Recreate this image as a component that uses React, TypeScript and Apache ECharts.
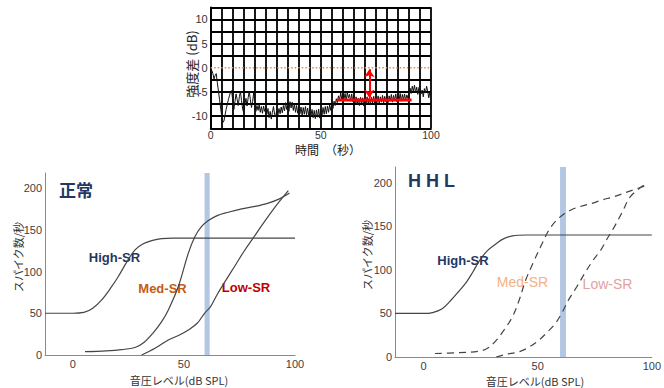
import React, { useEffect, useRef } from "react";
import * as echarts from "echarts";

// ---------- top panel: intensity difference over time ----------
const TIME_STEP = 0.5; // seconds between samples
const INTENSITY_DIFF = [
  -1.8, -0.6, -1.2, -2.3, -1.6, -1.2, -3.0, -4.8, -6.5, -8.3,
  -10.0, -11.3, -11.0, -9.8, -8.6, -7.6, -6.6, -5.8, -5.0, -4.7,
  -6.8, -8.6, -7.0, -5.4, -6.5, -7.8, -6.0, -4.9, -6.8, -8.5,
  -9.3, -7.6, -6.3, -7.9, -6.2, -4.8, -6.6, -8.2, -7.0, -5.2,
  -7.4, -9.0, -7.8, -8.8, -7.6, -9.2, -8.0, -9.4, -7.9, -9.0,
  -8.2, -9.6, -8.4, -10.3, -9.0, -10.6, -9.2, -8.0, -9.6, -10.1,
  -8.6, -9.8, -8.4, -9.5, -8.1, -9.3, -7.8, -8.9, -7.2, -8.6,
  -7.4, -9.0, -7.0, -8.3, -7.1, -8.8, -7.5, -9.2, -7.8, -9.4,
  -8.0, -9.5, -8.1, -9.8, -8.2, -9.6, -8.0, -9.7, -8.3, -9.9,
  -8.4, -10.0, -8.6, -10.3, -8.8, -10.5, -8.7, -10.2, -8.5, -10.4,
  -8.6, -9.9, -8.2, -9.6, -8.0, -9.5, -7.9, -9.2, -7.6, -8.8,
  -7.3, -8.4, -6.9, -7.8, -6.4, -7.2, -5.8, -6.6, -5.2, -6.5,
  -5.0, -6.4, -5.3, -6.8, -5.1, -6.2, -5.5, -6.9, -5.4, -7.0,
  -5.8, -7.3, -6.0, -7.6, -6.3, -7.8, -6.1, -7.5, -6.2, -7.9,
  -6.4, -7.6, -6.0, -7.4, -6.3, -7.7, -6.1, -7.3, -5.9, -7.5,
  -6.2, -7.2, -5.8, -7.4, -6.0, -7.1, -5.7, -7.3, -5.9, -7.0,
  -5.6, -7.2, -5.8, -6.9, -5.5, -7.1, -5.7, -6.8, -5.4, -7.0,
  -5.6, -6.7, -5.3, -6.9, -5.5, -6.6, -5.4, -6.8, -5.6, -6.3,
  -5.0, -4.2, -5.3, -3.8, -4.9, -3.6, -5.2, -4.0, -5.5, -4.1,
  -3.7, -5.4, -4.6, -6.0, -4.3, -5.2, -3.8, -4.9, -6.2, -5.0,
  -5.4,
];
const REF_LINE = [[0, 0], [100, 0]];
const PLATEAU_LINE = [[57.2, -6.65], [91.2, -6.65]];
const ARROW_FROM = [72, -0.3];
const ARROW_TO = [72, -6.2];

// ---------- bottom panels: rate-level functions ----------
const NORMAL_HIGH = [
  [-12.5, 50], [0, 50], [5, 51], [9, 56], [13, 66], [17, 80], [20.5, 94], [24, 110],
  [28, 126], [31.5, 133], [35.5, 137], [40, 139.5], [45, 140], [100, 140],
];
const NORMAL_MED = [
  [5.5, 4], [15, 5], [22, 6.5], [28, 9], [32, 15], [36, 26], [40, 40], [43, 54],
  [47.5, 82], [52, 122], [55, 142], [58, 154], [61, 161], [65, 167], [70, 171],
  [76, 175], [82, 178], [88, 182], [93, 187], [97.5, 194],
];
const NORMAL_LOW = [
  [31, 0], [37, 8], [43, 18], [48, 24], [52, 30], [56, 38], [59.3, 50], [62, 58],
  [65.3, 74], [69, 90], [72.8, 106], [77, 124], [81.7, 142], [85, 155], [89, 170],
  [93, 184], [97, 197],
];
const HHL_HIGH = [
  [-12.5, 50], [0, 50], [4, 51], [8, 55], [11.6, 64], [15, 74], [18.8, 86], [21.5, 97],
  [24.6, 111], [28, 122], [31.8, 130], [35, 135.5], [39, 139], [45, 140], [100, 140],
];
const HHL_MED = [
  [5, 4], [15, 5], [24, 6.5], [28, 10], [31.8, 19], [35, 30], [38.9, 46], [42, 66],
  [44.7, 88], [48, 108], [51.9, 130], [55, 146], [58.3, 157], [61.5, 164], [64.8, 169],
  [69, 173], [73.4, 176], [78, 180], [83.5, 184], [90, 190], [97.8, 197],
];
const HHL_LOW = [
  [31.8, 0], [36, 3], [41.8, 6], [46, 11], [50.4, 19], [54, 28], [57.6, 38], [60.5, 50],
  [63.4, 65], [67, 80], [70.6, 96], [74, 110], [77.7, 123], [80.5, 136], [83.5, 149],
  [87, 166], [90.6, 184], [96.4, 197],
];
const NORMAL_BAND = [59.3, 61.6];
const HHL_BAND = [59.8, 62.4];

const X_TICKS_TOP = [0, 50, 100];
const Y_TICKS_TOP = [-10, -5, 0, 5, 10];
const X_TICKS_BOTTOM = [0, 50, 100];
const Y_TICKS_BOTTOM = [0, 50, 100, 150, 200];

const NUM_FONT = "Liberation Sans, Arial, sans-serif";
const JP_FONT = "Noto Sans CJK JP, sans-serif";
const NAVY = "#1f3864";
const CURVE = "#454545";
const AXIS_GRAY = "#8a8a8a";
const BAND = "#b3c7e3";
const GRID_BLACK = "#000";

const near = (v: number, arr: number[]) => arr.some((t) => Math.abs(t - v) < 1e-6);

export default function App() {
  const ref = useRef<HTMLDivElement>(null);

  useEffect(() => {
    if (!ref.current) return;
    const chart = echarts.init(ref.current, undefined, { renderer: "svg" });

    const noise = INTENSITY_DIFF.map((v, i) => [i * TIME_STEP, v]);

    // horizontal grid lines of the top panel: the one at 0 is replaced by the dotted reference line
    const topYMin = -12.5;
    const topYStep = 2.5;
    const hLineColors: string[] = [];
    for (let i = 0; i <= 10; i++) {
      const v = topYMin + i * topYStep;
      hLineColors.push(Math.abs(v) < 1e-6 ? "rgba(0,0,0,0)" : GRID_BLACK);
    }

    const bottomX = (gridIndex: number) => ({
      gridIndex,
      type: "value",
      min: -12.5,
      max: 100,
      interval: 12.5,
      axisLine: { show: true, onZero: false, lineStyle: { color: AXIS_GRAY, width: 1 } },
      axisTick: { show: false },
      splitLine: { show: false },
      axisLabel: {
        formatter: (v: number) => (near(v, X_TICKS_BOTTOM) ? String(v) : ""),
        fontSize: 11,
        color: "#404040",
        margin: 3,
        fontFamily: NUM_FONT,
      },
    });
    const bottomY = (gridIndex: number) => ({
      gridIndex,
      type: "value",
      min: 0,
      max: 218,
      interval: 50,
      axisLine: { show: true, onZero: false, lineStyle: { color: AXIS_GRAY, width: 1 } },
      axisTick: { show: false },
      splitLine: { show: false },
      axisLabel: {
        formatter: (v: number) => (near(v, Y_TICKS_BOTTOM) ? String(v) : ""),
        fontSize: 11,
        color: "#404040",
        margin: 3,
        fontFamily: NUM_FONT,
      },
    });

    const curve = (data: number[][], xi: number, dashed: boolean, band?: number[]) => {
      const s: any = {
        type: "line",
        xAxisIndex: xi,
        yAxisIndex: xi,
        data,
        showSymbol: false,
        smooth: 0.35,
        silent: true,
        lineStyle: { color: CURVE, width: 1.2, type: dashed ? [7, 5] : "solid" },
        z: 3,
      };
      if (band) {
        s.markArea = {
          silent: true,
          itemStyle: { color: BAND, opacity: 1 },
          data: [[{ xAxis: band[0] }, { xAxis: band[1] }]],
        };
      }
      return s;
    };

    const text = (
      str: string,
      x: number,
      y: number,
      size: number,
      color: string,
      weight: string,
      family: string,
      rotation = 0
    ) => ({
      type: "text",
      x,
      y,
      rotation,
      silent: true,
      style: {
        text: str,
        fill: color,
        fontSize: size,
        fontWeight: weight,
        fontFamily: family,
        align: "center",
        verticalAlign: "middle",
      },
    });

    chart.setOption({
      animation: false,
      backgroundColor: "#ffffff",
      grid: [
        { left: 210.7, right: 233, top: 7.3, bottom: 259.7 },
        { left: 45, right: 369, top: 173, bottom: 33 },
        { left: 395, right: 8, top: 167, bottom: 31 },
      ],
      xAxis: [
        {
          gridIndex: 0,
          type: "value",
          min: 0,
          max: 100,
          interval: 5,
          axisLine: { show: true, onZero: false, lineStyle: { color: GRID_BLACK, width: 1.8 } },
          axisTick: { show: false },
          splitLine: { show: true, lineStyle: { color: GRID_BLACK, width: 1.8 } },
          axisLabel: {
            formatter: (v: number) => (near(v, X_TICKS_TOP) ? String(v) : ""),
            fontSize: 10.5,
            color: "#333",
            margin: 1,
            fontFamily: NUM_FONT,
          },
        },
        bottomX(1),
        bottomX(2),
      ],
      yAxis: [
        {
          gridIndex: 0,
          type: "value",
          min: topYMin,
          max: 12.5,
          interval: topYStep,
          axisLine: { show: true, onZero: false, lineStyle: { color: GRID_BLACK, width: 1.8 } },
          axisTick: { show: false },
          splitLine: { show: true, lineStyle: { color: hLineColors, width: 1.8 } },
          axisLabel: {
            formatter: (v: number) => (near(v, Y_TICKS_TOP) ? String(v) : ""),
            fontSize: 11,
            color: "#333",
            margin: 3,
            fontFamily: NUM_FONT,
          },
        },
        bottomY(1),
        bottomY(2),
      ],
      series: [
        {
          type: "line",
          xAxisIndex: 0,
          yAxisIndex: 0,
          data: REF_LINE,
          showSymbol: false,
          silent: true,
          lineStyle: { color: "#e8894a", width: 1.5, type: [1.5, 2] },
          z: 4,
        },
        {
          type: "line",
          xAxisIndex: 0,
          yAxisIndex: 0,
          data: noise,
          showSymbol: false,
          silent: true,
          lineStyle: { color: "#111", width: 1 },
          z: 5,
        },
        {
          type: "line",
          xAxisIndex: 0,
          yAxisIndex: 0,
          data: PLATEAU_LINE,
          showSymbol: false,
          silent: true,
          lineStyle: { color: "#ff0000", width: 3 },
          z: 6,
          markLine: {
            silent: true,
            symbol: ["arrow", "arrow"],
            symbolSize: [8, 8],
            label: { show: false },
            lineStyle: { color: "#ff0000", width: 2, type: "solid" },
            data: [[{ coord: ARROW_FROM }, { coord: ARROW_TO }]],
          },
        },
        curve(NORMAL_HIGH, 1, false, NORMAL_BAND),
        curve(NORMAL_MED, 1, false),
        curve(NORMAL_LOW, 1, false),
        curve(HHL_HIGH, 2, false, HHL_BAND),
        curve(HHL_MED, 2, true),
        curve(HHL_LOW, 2, true),
      ],
      graphic: [
        text("強度差 (dB)", 191, 64, 13, "#222", "normal", JP_FONT, Math.PI / 2),
        text("時間　（秒）", 328, 149.5, 12, "#222", "normal", JP_FONT),
        text("正常", 76, 189, 17, NAVY, "bold", JP_FONT),
        text("High-SR", 114.5, 257, 13, NAVY, "bold", NUM_FONT),
        text("Med-SR", 162.5, 288, 13, "#c55a11", "bold", NUM_FONT),
        text("Low-SR", 246, 287, 13, "#c00000", "bold", NUM_FONT),
        text("スパイク数/秒", 18, 257, 11, "#333", "normal", JP_FONT, Math.PI / 2),
        text("音圧レベル(dB SPL)", 179, 380, 11, "#333", "normal", JP_FONT),
        text("H H L", 431.5, 181, 18, NAVY, "bold", NUM_FONT),
        text("High-SR", 463, 260, 13, NAVY, "bold", NUM_FONT),
        text("Med-SR", 522.5, 282, 14, "#f4b183", "normal", NUM_FONT),
        text("Low-SR", 607.5, 284, 14, "#e3a0a0", "normal", NUM_FONT),
        text("スパイク数/秒", 367, 255, 11, "#333", "normal", JP_FONT, Math.PI / 2),
        text("音圧レベル(dB SPL)", 535, 381, 11, "#333", "normal", JP_FONT),
      ],
    });

    return () => chart.dispose();
  }, []);

  return (
    <div
      ref={ref}
      style={{ position: "absolute", left: 0, top: 0, width: 664, height: 388 }}
    />
  );
}
